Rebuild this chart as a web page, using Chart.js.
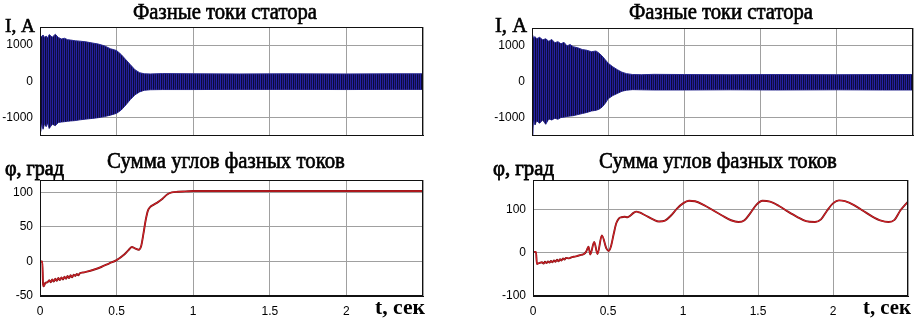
<!DOCTYPE html>
<html><head><meta charset="utf-8">
<script src="https://cdn.jsdelivr.net/npm/chart.js@4.4.1/dist/chart.umd.min.js"></script>
<style>
html,body{margin:0;padding:0;background:#fff;}
body{width:916px;height:320px;position:relative;overflow:hidden;}
.box{position:absolute;}
</style></head><body>
<div class="box" style="left:0;top:0;width:458px;height:150px"><canvas id="c1"></canvas></div>
<div class="box" style="left:458px;top:0;width:458px;height:150px"><canvas id="c2"></canvas></div>
<div class="box" style="left:0;top:150px;width:458px;height:170px"><canvas id="c3"></canvas></div>
<div class="box" style="left:458px;top:150px;width:458px;height:170px"><canvas id="c4"></canvas></div>
<script>
// ---- texts ----
const titleCurrents = 'Фазные токи статора';
const titleAngles = 'Сумма углов фазных токов';
const labelCurrent = 'I, A';
const labelAngle = 'φ, град';
const labelTime = 't, сек';

// ---- ticks ----
const xTicks = [0, 0.5, 1, 1.5, 2, 2.5];
const currentTicks = [-1000, 0, 1000];
const angleTicksLeft = [-50, 0, 50, 100];
const angleTicksRight = [-100, 0, 100];

// ---- phase currents, left case: envelope of the three phases (A) ----
const curTimeL  = [0, 0.004, 0.01, 0.02, 0.03, 0.04, 0.05, 0.06, 0.08, 0.1, 0.12, 0.14, 0.16, 0.18, 0.2, 0.23, 0.26, 0.3, 0.34, 0.38, 0.42, 0.46, 0.5, 0.53, 0.56, 0.59, 0.62, 0.65, 0.68, 0.72, 0.8, 1.0, 1.3, 1.6, 2.0, 2.3, 2.5];
const curUpperL = [0, 1260, 1230, 1280, 1210, 1250, 1200, 1290, 1220, 1300, 1210, 1170, 1190, 1150, 1140, 1120, 1110, 1090, 1060, 1030, 980, 900, 850, 740, 600, 460, 320, 240, 210, 205, 215, 210, 205, 210, 205, 210, 210];
const curLowerL = [0, -1380, -1150, -1320, -1160, -1250, -1150, -1300, -1180, -1220, -1130, -1120, -1110, -1100, -1090, -1080, -1060, -1040, -1020, -1000, -970, -930, -880, -790, -650, -500, -370, -290, -245, -230, -225, -225, -220, -220, -225, -220, -220];

// ---- phase currents, right case ----
const curTimeR  = [0, 0.004, 0.01, 0.02, 0.03, 0.05, 0.07, 0.09, 0.11, 0.13, 0.15, 0.17, 0.19, 0.21, 0.23, 0.25, 0.27, 0.3, 0.33, 0.36, 0.39, 0.42, 0.44, 0.46, 0.48, 0.5, 0.53, 0.56, 0.59, 0.62, 0.66, 0.72, 0.8, 1.0, 1.3, 1.6, 2.0, 2.3, 2.5];
const curUpperR = [0, 1300, 1220, 1260, 1200, 1240, 1170, 1200, 1130, 1180, 1090, 1120, 1060, 1100, 1000, 1040, 980, 950, 900, 880, 840, 860, 800, 720, 620, 520, 420, 340, 270, 230, 205, 200, 210, 205, 200, 205, 200, 205, 205];
const curLowerR = [0, -1480, -1050, -1200, -1080, -1150, -1060, -1180, -1030, -1060, -1010, -1040, -990, -980, -960, -950, -940, -910, -880, -850, -810, -790, -760, -700, -600, -470, -380, -320, -260, -230, -215, -220, -225, -225, -220, -225, -220, -225, -225];

// ---- sum of phase-current angles, left case (deg) ----
const angTimeL = [0, 0.015, 0.02, 0.025, 0.035, 0.05, 0.06, 0.07, 0.08, 0.09, 0.1, 0.11, 0.12, 0.13, 0.14, 0.15, 0.16, 0.17, 0.18, 0.19, 0.2, 0.21, 0.22, 0.23, 0.24, 0.25, 0.26, 0.28, 0.3, 0.35, 0.4, 0.45, 0.5, 0.55, 0.58, 0.6, 0.62, 0.645, 0.66, 0.675, 0.69, 0.705, 0.72, 0.74, 0.77, 0.8, 0.83, 0.86, 0.9, 0.95, 1.0, 1.5, 2.0, 2.5];
const angValL  = [0, 0, -33, -36, -31, -30, -27, -30, -26, -29, -25, -28, -24, -27, -23, -26, -22, -25, -21, -24, -20, -23, -19, -21, -18, -20, -17, -16, -15, -12, -8, -3, 2, 10, 17, 21, 19, 17, 22, 40, 60, 74, 79, 82, 86, 91, 97, 100, 101, 101.5, 102, 102, 102, 102];

// ---- sum of phase-current angles, right case (deg) ----
const angTimeR = [0, 0.02, 0.026, 0.04, 0.06, 0.07, 0.08, 0.09, 0.1, 0.11, 0.12, 0.13, 0.14, 0.15, 0.16, 0.17, 0.18, 0.19, 0.2, 0.21, 0.22, 0.24, 0.26, 0.28, 0.3, 0.32, 0.34, 0.355, 0.37, 0.382, 0.408, 0.43, 0.459, 0.489, 0.505, 0.52, 0.539, 0.555, 0.572, 0.59, 0.61, 0.63, 0.65, 0.67, 0.69, 0.71, 0.75, 0.8, 0.84, 0.88, 0.92, 0.96, 1.0, 1.04, 1.08, 1.14, 1.2, 1.26, 1.32, 1.37, 1.41, 1.45, 1.49, 1.53, 1.58, 1.64, 1.7, 1.76, 1.82, 1.88, 1.92, 1.96, 2.0, 2.04, 2.08, 2.14, 2.2, 2.26, 2.32, 2.37, 2.41, 2.45, 2.5];
const angValR  = [2, 2, -26, -24, -22, -25, -21, -24, -20, -23, -19, -22, -18, -21, -16, -20, -15, -18, -13, -16, -12, -13, -10, -9, -7, -5, -3, 3, 14, -4, 25, -3, 40, 10, 4, 15, 45, 68, 79, 82, 83, 82, 86, 92, 95, 93, 86, 77, 72, 74, 86, 102, 114, 120, 119, 110, 98, 86, 75, 71, 75, 92, 111, 120, 118, 108, 95, 83, 73, 71, 77, 97, 114, 121, 119, 110, 97, 84, 74, 71, 76, 98, 118];

const pts = (xs, ys) => xs.map((x, i) => ({x, y: ys[i]}));

function stripePattern() {
  const c = document.createElement('canvas'); c.width = 4; c.height = 1;
  const g = c.getContext('2d');
  ['#2222a8', '#0a0a3a', '#2a1c8c', '#101048'].forEach((col, i) => { g.fillStyle = col; g.fillRect(i, 0, 1, 1); });
  return g.createPattern(c, 'repeat');
}
const stripes = stripePattern();

const SERIF = '"Liberation Serif", "Times New Roman", serif';
const SANS = '"Liberation Sans", Arial, sans-serif';

function fitFont(ctx, text, weight, target) {
  ctx.font = weight + ' 20px ' + SERIF;
  const w = ctx.measureText(text).width;
  return weight + ' ' + (20 * target / w).toFixed(2) + 'px ' + SERIF;
}

const frameAndText = {
  id: 'frameAndText',
  afterDraw(chart, args, opts) {
    const {ctx, chartArea: a} = chart;
    ctx.save();
    ctx.strokeStyle = '#111'; ctx.lineWidth = 1;
    ctx.strokeRect(Math.round(a.left) + 0.5, Math.round(a.top) + 0.5, Math.round(a.right - a.left) - 1, Math.round(a.bottom - a.top) - 1);
    ctx.fillStyle = '#000'; ctx.strokeStyle = '#000'; ctx.textBaseline = 'alphabetic';
    for (const t of opts.texts) {
      ctx.save();
      ctx.font = fitFont(ctx, t.text, t.weight || 'normal', t.width);
      ctx.textAlign = t.align;
      ctx.translate(t.x, t.y);
      ctx.scale(1, t.sy || 1);
      ctx.fillText(t.text, 0, 0);
      if (t.thick) { ctx.lineWidth = t.thick; ctx.strokeText(t.text, 0, 0); }
      ctx.restore();
    }
    ctx.restore();
  }
};

function makeChart(id, p) {
  const W = 458;
  const ctx = document.getElementById(id);
  return new Chart(ctx, {
    type: 'line',
    data: {datasets: p.datasets},
    options: {
      responsive: true, maintainAspectRatio: false, animation: false, events: [],
      layout: {padding: {left: 0, top: p.area.top, right: W - p.area.right, bottom: 0}},
      plugins: {legend: {display: false}, tooltip: {enabled: false}, title: {display: false},
        frameAndText: {texts: p.texts}},
      elements: {point: {radius: 0}},
      scales: {
        x: {type: 'linear', min: 0, max: 2.5,
          afterBuildTicks: s => { s.ticks = xTicks.map(v => ({value: v})); },
          afterFit: s => { s.height = p.H - p.area.bottom; },
          grid: {color: '#a0a0a0', lineWidth: 1, drawTicks: false},
          border: {display: true, color: '#111'},
          ticks: {display: p.xLabels, padding: 8, color: '#000', maxRotation: 0, autoSkip: false,
            font: {family: SANS, size: 12},
            callback: v => (v === 2.5 ? '' : String(v))}},
        y: {type: 'linear', min: p.yMin, max: p.yMax,
          afterBuildTicks: s => { s.ticks = p.yTicks.map(v => ({value: v})); },
          afterFit: s => { s.width = p.area.left; },
          grid: {color: '#a0a0a0', lineWidth: 1, drawTicks: false},
          border: {display: true, color: '#111'},
          ticks: {padding: 7, color: '#000', font: {family: SANS, size: 12}, callback: v => String(v)}}
      }
    },
    plugins: [frameAndText]
  });
}

function bandSets(xs, up, lo) {
  return [
    {data: pts(xs, up), borderColor: '#26268e', borderWidth: 1, backgroundColor: stripes, fill: '+1', tension: 0},
    {data: pts(xs, lo), borderColor: '#26268e', borderWidth: 1, backgroundColor: stripes, fill: false, tension: 0}
  ];
}
function angleSets(xs, ys) {
  return [
    {data: pts(xs, ys), borderColor: '#e8262e', borderWidth: 0.9, fill: false, cubicInterpolationMode: 'monotone'},
    {data: pts(xs, ys), borderColor: '#7a0e10', borderWidth: 1.9, fill: false, cubicInterpolationMode: 'monotone'}
  ];
}

makeChart('c1', {H: 150, area: {left: 40, right: 423, top: 27, bottom: 143}, yMin: -1500, yMax: 1500,
  yTicks: currentTicks, xLabels: false, datasets: bandSets(curTimeL, curUpperL, curLowerL),
  texts: [{text: titleCurrents, x: 225, y: 19, align: 'center', width: 184, sy: 1.08, thick: 0.6},
          {text: labelCurrent, x: 5, y: 32, align: 'left', width: 30, thick: 0.6}]});
makeChart('c2', {H: 150, area: {left: 74, right: 455, top: 28, bottom: 144}, yMin: -1500, yMax: 1500,
  yTicks: currentTicks, xLabels: false, datasets: bandSets(curTimeR, curUpperR, curLowerR),
  texts: [{text: titleCurrents, x: 263, y: 19, align: 'center', width: 184, sy: 1.08, thick: 0.6},
          {text: labelCurrent, x: 37, y: 32, align: 'left', width: 32, thick: 0.6}]});
makeChart('c3', {H: 170, area: {left: 40, right: 423, top: 30, bottom: 146}, yMin: -50, yMax: 118,
  yTicks: angleTicksLeft, xLabels: true, datasets: angleSets(angTimeL, angValL),
  texts: [{text: titleAngles, x: 226, y: 18, align: 'center', width: 238, sy: 1.08, thick: 0.6},
          {text: labelAngle, x: 5, y: 25, align: 'left', width: 59, thick: 0.8},
          {text: labelTime, x: 425, y: 164, align: 'right', width: 50, weight: 'bold'}]});
makeChart('c4', {H: 170, area: {left: 75, right: 455, top: 30, bottom: 146}, yMin: -100, yMax: 168,
  yTicks: angleTicksRight, xLabels: true, datasets: angleSets(angTimeR, angValR),
  texts: [{text: titleAngles, x: 260, y: 18, align: 'center', width: 238, sy: 1.08, thick: 0.6},
          {text: labelAngle, x: 35, y: 25, align: 'left', width: 61, thick: 0.8},
          {text: labelTime, x: 453, y: 164, align: 'right', width: 48, weight: 'bold'}]});
</script>
</body></html>
